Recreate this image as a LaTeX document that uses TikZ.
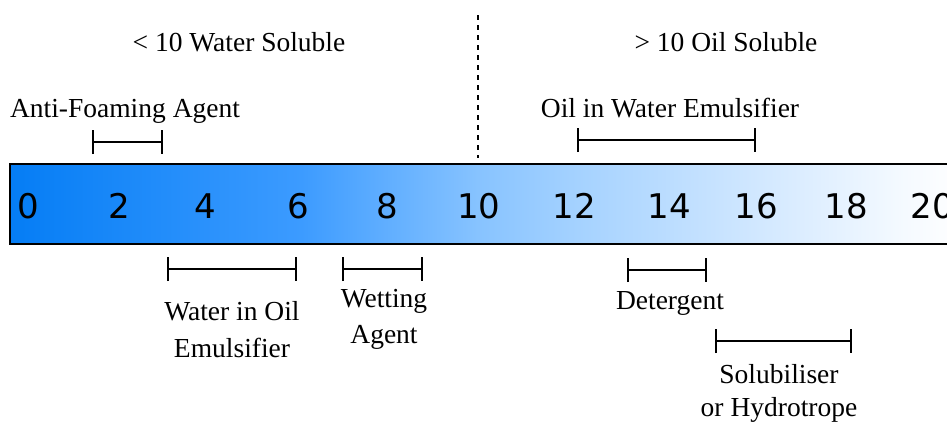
\documentclass[tikz,border=0pt]{standalone}
\usepackage{fontspec}
\setmainfont{Liberation Serif}
\newfontfamily\numfont{DejaVu Sans}
\usetikzlibrary{arrows.meta}
\definecolor{g0}{RGB}{5,125,245}
\definecolor{g1}{RGB}{60,155,255}
\definecolor{g2}{RGB}{135,195,255}
\definecolor{g3}{RGB}{165,210,255}
\definecolor{g4}{RGB}{210,232,255}
\definecolor{g5}{RGB}{245,250,255}
\pgfdeclarehorizontalshading{hlbshade}{100bp}{color(0bp)=(g0); color(25bp)=(g0); color(40.25bp)=(g1); color(49.5bp)=(g2); color(54.75bp)=(g3); color(64.3bp)=(g4); color(71.85bp)=(g5); color(75bp)=(white); color(100bp)=(white)}
\tikzset{
  lbl/.style={anchor=base, inner sep=0pt, font=\fontsize{27.5}{33}\selectfont},
  num/.style={anchor=base, inner sep=0pt, font=\numfont\fontsize{34}{40}\selectfont},
  rangebar/.style={line width=2pt, {Bar[width=24pt]}-{Bar[width=24pt]}},
  divider/.style={line width=2pt, dash pattern=on 5pt off 5pt}
}
\begin{document}
\begin{tikzpicture}[x=1pt,y=-1pt]
\useasboundingbox (0,0) rectangle (947,421);
\begin{scope}
\clip (0,0) rectangle (947,421);
% scale bar
\shadedraw[shading=hlbshade, line width=2.5pt] (10,164) rectangle (965,244);
% numbers
\foreach \v/\x in {0/28,2/119,4/205,6/298,8/387,10/479,12/574,14/669,16/756,18/846,20/932}
  \node[num] (n\v) at (\x,218) {\v};
% divider
\coordinate (dtop) at (478,15);
\coordinate (dbot) at (478,158);
\draw[divider] (dtop) -- (dbot);
% headings
\node[lbl] (ws) at (239,51) {< 10 Water Soluble};
\node[lbl] (os) at (726,51) {> 10 Oil Soluble};
% labels
\node[lbl] (af) at (125,117) {Anti-Foaming Agent};
\node[lbl] (ow) at (670,117) {Oil in Water Emulsifier};
\node[lbl] (wo1) at (232,320) {Water in Oil};
\node[lbl] (wo2) at (232,357) {Emulsifier};
\node[lbl] (we1) at (384,307) {Wetting};
\node[lbl] (we2) at (384,343) {Agent};
\node[lbl] (de) at (670,309) {Detergent};
\node[lbl] (so1) at (779,383) {Solubiliser};
\node[lbl] (so2) at (779,416) {or Hydrotrope};
% range bars
\coordinate (afL) at (92,142);  \coordinate (afR) at (163,142);
\coordinate (owL) at (577,140); \coordinate (owR) at (756,140);
\coordinate (woL) at (167,269); \coordinate (woR) at (297,269);
\coordinate (weL) at (342,269); \coordinate (weR) at (423,269);
\coordinate (deL) at (627,270); \coordinate (deR) at (707,270);
\coordinate (soL) at (715,341); \coordinate (soR) at (852,341);
\draw[rangebar] (afL) -- (afR);
\draw[rangebar] (owL) -- (owR);
\draw[rangebar] (woL) -- (woR);
\draw[rangebar] (weL) -- (weR);
\draw[rangebar] (deL) -- (deR);
\draw[rangebar] (soL) -- (soR);
\end{scope}
\end{tikzpicture}
\end{document}
